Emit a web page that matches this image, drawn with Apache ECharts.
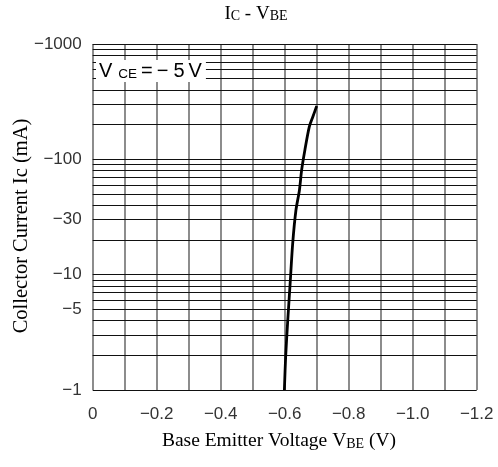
<!DOCTYPE html>
<html>
<head>
<meta charset="utf-8">
<script src="https://cdn.jsdelivr.net/npm/echarts@6/dist/echarts.min.js"></script>
<style>html,body{margin:0;padding:0;background:#fff}#c{width:498px;height:467px}</style>
</head>
<body>
<div id="c"></div>
<script>
// ---- data ----
const vbe = [-0.599, -0.603, -0.609, -0.617, -0.625, -0.635, -0.646, -0.653, -0.663, -0.677, -0.688, -0.700];
const ic  = [1, 1.95, 3.8, 8.4, 18.7, 36, 54, 81, 120, 192, 234, 290];
const xTickValues = [0, -0.2, -0.4, -0.6, -0.8, -1.0, -1.2];
const xTickLabels = ['0', '\u22120.2', '\u22120.4', '\u22120.6', '\u22120.8', '\u22121.0', '\u22121.2'];
const yTickValues = [1, 5, 10, 30, 100, 1000];
const yTickLabels = ['\u22121', '\u22125', '\u221210', '\u221230', '\u2212100', '\u22121000'];
const yGridValues = [1,2,3,4,5,6,7,8,9,10,20,30,40,50,60,70,80,90,100,200,300,400,500,600,700,800,900,1000];

const chart = echarts.init(document.getElementById('c'), null, {renderer: 'canvas'});
const labelFont = 'Liberation Sans';
const serif = 'Liberation Serif';

const option = {
  animation: false,
  backgroundColor: '#fff',
  grid: {left: 92.7, right: 21.3, top: 44, bottom: 77, containLabel: false},
  xAxis: {
    type: 'value', min: -1.2, max: 0, interval: 0.1, inverse: true,
    axisLine: {show: false}, axisTick: {show: false},
    splitLine: {show: true, lineStyle: {color: '#808080', width: 1.8}},
    axisLabel: {
      customValues: xTickValues,
      margin: 16, fontSize: 17, fontFamily: labelFont, color: '#333',
      formatter: function (v) {
        for (let i = 0; i < xTickValues.length; i++) if (Math.abs(xTickValues[i] - v) < 1e-6) return xTickLabels[i];
        return '';
      }
    }
  },
  yAxis: [
    {
      type: 'log', logBase: 10, min: 1, max: 1000,
      axisLine: {show: false}, axisTick: {show: false}, axisLabel: {show: false},
      splitLine: {show: false}, minorSplitLine: {show: false}
    },
    {
      type: 'value', min: 0, max: 3, position: 'left',
      axisLine: {show: false}, axisTick: {show: false}, splitLine: {show: false},
      axisLabel: {
        customValues: yTickValues.map(v => Math.log10(v)),
        margin: 11, fontSize: 17, fontFamily: labelFont, color: '#333',
        formatter: function (v) {
          for (let i = 0; i < yTickValues.length; i++) if (Math.abs(Math.log10(yTickValues[i]) - v) < 1e-6) return yTickLabels[i];
          return '';
        }
      }
    }
  ],
  series: [
    {
      name: 'grid', type: 'line', yAxisIndex: 0, data: [], z: 1, silent: true,
      markLine: {
        silent: true, symbol: ['none', 'none'], animation: false,
        label: {show: false},
        lineStyle: {color: '#111', width: 1.2, type: 'solid'},
        data: yGridValues.map(v => ({yAxis: v}))
      }
    },
    {
      name: 'Ic', type: 'line', yAxisIndex: 0, z: 5,
      data: vbe.map((v, i) => [v, ic[i]]),
      smooth: 0.3, showSymbol: false, symbol: 'none',
      lineStyle: {color: '#000', width: 2.8}
    }
  ],
  graphic: [
    {
      type: 'text', x: 256, y: 14, z: 100,
      style: {
        text: '{a|I}{b|C}{a| - V}{b|BE}', textAlign: 'center', textVerticalAlign: 'middle',
        rich: {
          a: {fontFamily: serif, fontSize: 19, color: '#000', verticalAlign: 'bottom'},
          b: {fontFamily: serif, fontSize: 14, color: '#000', verticalAlign: 'bottom'}
        }
      }
    },
    {
      type: 'text', x: 279, y: 441, z: 100,
      style: {
        text: '{a|Base Emitter Voltage V}{b|BE}{a| (V)}', textAlign: 'center', textVerticalAlign: 'middle',
        rich: {
          a: {fontFamily: serif, fontSize: 19.5, color: '#000', verticalAlign: 'bottom'},
          b: {fontFamily: serif, fontSize: 14, color: '#000', verticalAlign: 'bottom'}
        }
      }
    },
    {
      type: 'text', x: 22, y: 226, rotation: Math.PI / 2, z: 100,
      style: {
        text: 'Collector Current Ic (mA)', textAlign: 'center', textVerticalAlign: 'middle',
        fontFamily: serif, fontSize: 20.5, fill: '#000'
      }
    },
    {
      type: 'text', x: 96, y: 60, z: 100,
      style: {
        text: '{a|V}{b|CE}{c|=}{c|\u2212}{d|5}{a|V}',
        backgroundColor: '#fff', padding: [1, 3, 1, 2],
        rich: {
          a: {fontFamily: labelFont, fontSize: 20, color: '#222', padding: [0, 1], verticalAlign: 'bottom'},
          b: {fontFamily: labelFont, fontSize: 13.5, color: '#222', padding: [0, 2, 0, 5], verticalAlign: 'bottom'},
          c: {fontFamily: labelFont, fontSize: 20, color: '#222', padding: [0, 2], verticalAlign: 'bottom'},
          d: {fontFamily: labelFont, fontSize: 20, color: '#222', padding: [0, 3], verticalAlign: 'bottom'}
        }
      }
    }
  ]
};
chart.setOption(option);
</script>
</body>
</html>
